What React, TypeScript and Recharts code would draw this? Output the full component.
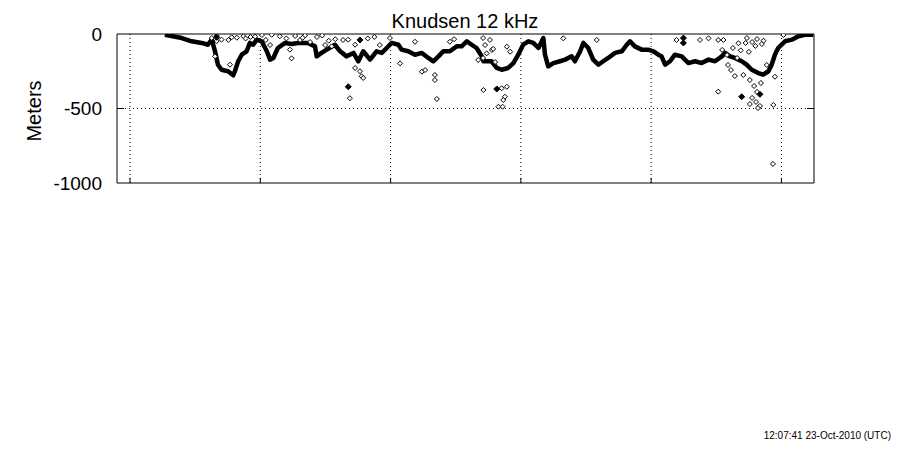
import { ComposedChart, Line, Scatter, XAxis, YAxis, CartesianGrid, ReferenceLine } from 'recharts'

// time axis in hours, depth in meters (negative down)
const timeDomain = [-0.4, 21]
const depthDomain = [-1000, 0]
const timeTicks = [0, 4, 8, 12, 16, 20]
const depthTicks = [-1000, -500, 0]
const gridDepths = [-500]

const trackHours = [
  1.07, 1.59, 1.89, 2.2, 2.39, 2.51, 2.61, 2.7, 2.81, 3.01, 3.17, 3.22, 3.32, 3.43, 3.58, 3.68, 3.78, 3.89,
  4.04, 4.2, 4.3, 4.4, 4.54, 4.76, 4.96, 5.16, 5.46, 5.68, 5.73, 5.88, 6.04, 6.29, 6.45, 6.65, 6.86, 7.01,
  7.16, 7.37, 7.57, 7.73, 7.88, 8.03, 8.24, 8.34, 8.54, 8.75, 8.96, 9.16, 9.31, 9.47, 9.62, 9.82, 10.03,
  10.18, 10.34, 10.49, 10.64, 10.8, 10.85, 11.1, 11.26, 11.41, 11.61, 11.77, 11.92, 12.07, 12.23, 12.38,
  12.54, 12.59, 12.69, 12.74, 12.84, 13.0, 13.2, 13.36, 13.56, 13.66, 13.82, 13.92, 14.07, 14.22, 14.38,
  14.53, 14.68, 14.89, 15.1, 15.25, 15.35, 15.5, 15.71, 15.91, 16.07, 16.22, 16.32, 16.43, 16.58, 16.73,
  16.94, 17.14, 17.35, 17.55, 17.76, 17.96, 18.17, 18.27, 18.42, 18.57, 18.78, 18.93, 19.09, 19.29, 19.44,
  19.6, 19.7, 19.8, 19.9, 20.11, 20.32, 20.52, 20.72, 20.98,
]
const trackDepth = [
  -5, -27, -49, -60, -72, -38, -116, -206, -240, -250, -277, -250, -183, -139, -116, -60, -72, -38,
  -49, -116, -172, -161, -94, -60, -67, -60, -60, -83, -150, -127, -105, -72, -116, -150, -127, -183,
  -116, -172, -116, -127, -94, -60, -72, -105, -116, -139, -127, -161, -183, -150, -116, -116, -83,
  -83, -49, -72, -94, -150, -183, -183, -228, -240, -228, -195, -139, -72, -49, -60,
  -94, -72, -27, -139, -217, -195, -183, -172, -150, -183, -116, -60, -94, -172, -206,
  -183, -161, -127, -116, -72, -49, -83, -105, -105, -116, -139, -150, -206, -183, -139,
  -150, -195, -183, -195, -172, -183, -150, -127, -150, -161, -183, -206, -240, -262, -273,
  -250, -206, -139, -94, -49, -38, -15, -5, -5,
]

// stray soundings (open diamonds)
const strayHours = [
  2.51, 2.66, 2.66, 2.81, 3.02, 3.12, 3.28, 3.48, 3.07, 3.84, 2.61, 4.05, 4.17, 4.3, 4.35, 4.91, 4.96,
  5.07, 5.22, 5.37, 5.53, 5.74, 5.99, 6.19, 6.54, 6.7, 6.75, 6.91, 7.06, 6.91, 7.06, 7.11, 7.16, 7.67,
  7.98, 8.29, 8.75, 8.96, 9.06, 9.36, 9.36, 9.42, 9.82, 10.69, 10.84, 10.9, 10.84, 11.05, 11.11, 11.21,
  10.85, 11.41, 11.57, 11.51, 11.46, 11.31, 11.44, 11.57, 11.67, 13.3, 14.33, 16.78, 17.5, 17.76, 18.06,
  18.22, 18.68, 18.94, 19.1, 19.25, 19.4, 18.18, 18.33, 18.51, 18.64, 18.36, 18.45, 18.57, 18.83, 19.03,
  19.16, 19.25, 19.1, 19.22, 19.34, 19.03, 18.06, 19.75, 19.8, 19.55, 20.06, 19.74, 19.37, 19.28,
  3.55, 3.7, 4.6, 4.8, 5.3, 5.9, 6.3, 6.1, 7.3, 7.5, 9.95, 10.95, 11.15, 18.9, 19.0, 19.2, 19.45, 18.75,
]
const strayDepth = [
  -27, -13, -47, -38, -40, -22, -25, -15, -206, -18, -150, -7, -40, -74, -5, -105, -163,
  -13, -40, -10, -54, -20, -74, -83, -40, -38, -431, -72, -40, -228, -250, -284, -295, -74,
  -27, -197, -52, -253, -242, -275, -309, -436, -52, -174, -27, -74, -161, -40, -107, -188,
  -376, -364, -354, -421, -443, -488, -488, -85, -119, -29, -40, -40, -40, -29, -40,
  -40, -62, -27, -54, -34, -67, -107, -141, -94, -161, -208, -242, -282, -275, -309,
  -349, -389, -429, -456, -483, -470, -387, -476, -287, -208, -7, -872, -329, -497,
  -30, -20, -15, -30, -25, -10, -35, -45, -30, -20, -35, -130, -100, -60, -120, -80, -45, -110,
]

// solid soundings
const solidHours = [2.66, 6.7, 7.06, 11.26, 16.99, 16.99, 18.78, 19.34]
const solidDepth = [-22, -354, -40, -369, -27, -60, -421, -405]

const track = trackHours.map((h, i) => ({ h, m: trackDepth[i] }))
const stray = strayHours.map((h, i) => ({ h, m: strayDepth[i] }))
const solid = solidHours.map((h, i) => ({ h, m: solidDepth[i] }))

// inward tick lengths, in data units (5px of 149px height, 7px of 697px width)
const xTickLen = 34
const yTickLen = 0.215

const font = '"Liberation Sans", Arial, sans-serif'

const OpenDiamond = (p: any) => {
  const { cx, cy } = p
  if (cx == null || cy == null) return null
  return <path d={`M${cx},${cy - 2.5}L${cx + 2.5},${cy}L${cx},${cy + 2.5}L${cx - 2.5},${cy}Z`} fill="#fff" stroke="#000" strokeWidth={1} />
}

const SolidDiamond = (p: any) => {
  const { cx, cy } = p
  if (cx == null || cy == null) return null
  return <path d={`M${cx},${cy - 3}L${cx + 3},${cy}L${cx},${cy + 3}L${cx - 3},${cy}Z`} fill="#000" stroke="#000" strokeWidth={1} />
}

export default function App() {
  return (
    <div style={{ position: 'absolute', left: 0, top: 0, width: 900, height: 450, background: '#fff', fontFamily: font }}>
      <ComposedChart width={900} height={450} margin={{ top: 34, right: 85, bottom: 266, left: 57 }}>
        <CartesianGrid yAxisId="l" stroke="#000" strokeDasharray="1 3" vertical={false} horizontalValues={gridDepths} />
        <XAxis
          dataKey="h"
          type="number"
          domain={timeDomain}
          ticks={timeTicks}
          allowDataOverflow
          height={1}
          tick={false}
          tickLine={false}
          axisLine={{ stroke: '#000' }}
        />
        <YAxis
          yAxisId="l"
          dataKey="m"
          type="number"
          domain={depthDomain}
          ticks={depthTicks}
          interval={0}
          allowDataOverflow
          width={60}
          tickLine={false}
          tickMargin={9}
          axisLine={{ stroke: '#000' }}
          tick={{ fill: '#000', fontSize: 19, fontFamily: font }}
        />
        <YAxis
          yAxisId="r"
          orientation="right"
          type="number"
          domain={depthDomain}
          width={1}
          tick={false}
          tickLine={false}
          axisLine={{ stroke: '#000' }}
        />
        {timeTicks.map((t) => (
          <ReferenceLine key={'g' + t} yAxisId="l" x={t} stroke="#000" strokeDasharray="1 3" />
        ))}
        {timeTicks.map((t) => (
          <ReferenceLine
            key={'t' + t}
            yAxisId="l"
            segment={[{ x: t, y: depthDomain[0] }, { x: t, y: depthDomain[0] + xTickLen }]}
            stroke="#000"
          />
        ))}
        {gridDepths.map((d) => (
          <ReferenceLine
            key={'l' + d}
            yAxisId="l"
            segment={[{ x: timeDomain[0], y: d }, { x: timeDomain[0] + yTickLen, y: d }]}
            stroke="#000"
          />
        ))}
        {gridDepths.map((d) => (
          <ReferenceLine
            key={'r' + d}
            yAxisId="l"
            segment={[{ x: timeDomain[1] - yTickLen, y: d }, { x: timeDomain[1], y: d }]}
            stroke="#000"
          />
        ))}
        <ReferenceLine yAxisId="l" y={0} stroke="#000" strokeWidth={1} />
        <Scatter yAxisId="l" data={stray} dataKey="m" shape={OpenDiamond} isAnimationActive={false} />
        <Line
          yAxisId="l"
          data={track}
          dataKey="m"
          type="linear"
          stroke="#000"
          strokeWidth={4.5}
          strokeLinejoin="round"
          dot={false}
          isAnimationActive={false}
        />
        <Scatter yAxisId="l" data={solid} dataKey="m" shape={SolidDiamond} isAnimationActive={false} />
      </ComposedChart>

      <div style={{ position: 'absolute', left: 365, top: 11, width: 200, textAlign: 'center', fontSize: 20, lineHeight: '20px', color: '#000' }}>
        Knudsen 12 kHz
      </div>
      <div style={{ position: 'absolute', left: 34, top: 111, transform: 'translate(-50%, -50%) rotate(-90deg)', fontSize: 20, lineHeight: '20px', whiteSpace: 'nowrap', color: '#000' }}>
        Meters
      </div>
      <div style={{ position: 'absolute', right: 9, top: 431, fontSize: 10, lineHeight: '10px', whiteSpace: 'nowrap', color: '#000' }}>
        12:07:41 23-Oct-2010 (UTC)
      </div>
    </div>
  )
}
